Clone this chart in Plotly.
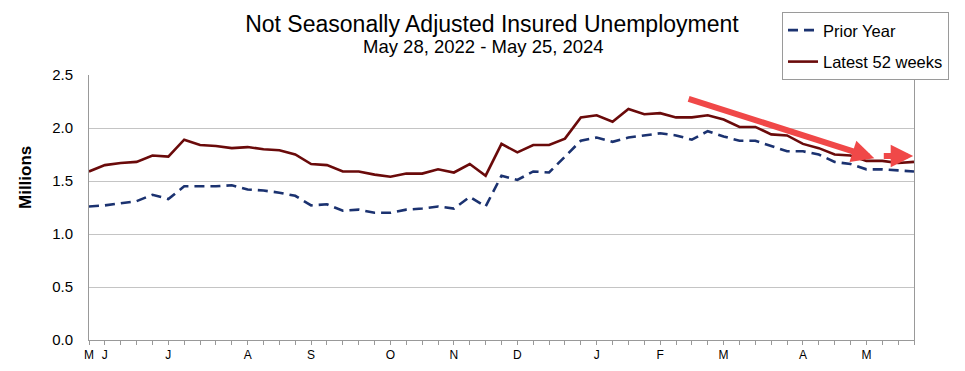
import plotly.graph_objects as go
import pandas as pd

# Week-ending dates (latest 52 weeks window)
weeks = [d.strftime("%Y-%m-%d") for d in pd.date_range("2023-05-27", "2024-05-25", freq="7D")]

latest_52_weeks = [
    1.59, 1.65, 1.67, 1.68, 1.74, 1.73, 1.89, 1.84, 1.83, 1.81,
    1.82, 1.80, 1.79, 1.75, 1.66, 1.65, 1.59, 1.59, 1.56, 1.54,
    1.57, 1.57, 1.61, 1.58, 1.66, 1.55, 1.85, 1.77, 1.84, 1.84,
    1.90, 2.10, 2.12, 2.06, 2.18, 2.13, 2.14, 2.10, 2.10, 2.12,
    2.08, 2.01, 2.01, 1.94, 1.93, 1.85, 1.81, 1.75, 1.74, 1.69,
    1.69, 1.67, 1.68,
]
prior_year = [
    1.26, 1.27, 1.29, 1.31, 1.37, 1.33, 1.45, 1.45, 1.45, 1.46,
    1.42, 1.41, 1.39, 1.36, 1.27, 1.28, 1.22, 1.23, 1.20, 1.20,
    1.23, 1.24, 1.26, 1.24, 1.35, 1.26, 1.55, 1.51, 1.59, 1.58,
    1.73, 1.88, 1.91, 1.87, 1.91, 1.93, 1.95, 1.93, 1.89, 1.97,
    1.92, 1.88, 1.88, 1.83, 1.78, 1.78, 1.75, 1.68, 1.66, 1.61,
    1.61, 1.60, 1.59,
]

month_tick_weeks = ["2023-05-27", "2023-06-03", "2023-07-01", "2023-08-05", "2023-09-02",
                    "2023-10-07", "2023-11-04", "2023-12-02", "2024-01-06", "2024-02-03",
                    "2024-03-02", "2024-04-06", "2024-05-04"]
month_tick_labels = ["M", "J", "J", "A", "S", "O", "N", "D", "J", "F", "M", "A", "M"]

tick_map = dict(zip(month_tick_weeks, month_tick_labels))
tick_text = [tick_map.get(w, "") for w in weeks]

fig = go.Figure()
fig.add_trace(go.Scatter(
    x=weeks, y=prior_year, mode="lines", name="Prior Year",
    line=dict(color="#1b3270", width=2.6, dash="10px,6px"),
    legendgroup="a",
))
fig.add_trace(go.Scatter(
    x=weeks, y=latest_52_weeks, mode="lines", name="Latest 52 weeks",
    line=dict(color="#6a0a0a", width=2.6),
    legendgroup="b",
))

arrow_color = "#f04848"
# Trend arrows
fig.add_annotation(x=49.5, y=1.715, ax=37.7, ay=2.28, xref="x", yref="y", axref="x", ayref="y",
                   showarrow=True, arrowhead=2, arrowsize=0.75, arrowwidth=6, arrowcolor=arrow_color, text="")
fig.add_annotation(x=51.95, y=1.735, ax=50.0, ay=1.735, xref="x", yref="y", axref="x", ayref="y",
                   showarrow=True, arrowhead=2, arrowsize=0.75, arrowwidth=6, arrowcolor=arrow_color, text="")

fig.add_annotation(text="May 28, 2022 - May 25, 2024", xref="paper", yref="paper",
                   x=0.478, y=1.107, showarrow=False, font=dict(size=18.5, color="black"),
                   xanchor="center", yanchor="middle")
fig.add_annotation(text="<b>Millions</b>", xref="paper", yref="paper",
                   x=-0.0776, y=0.615, showarrow=False, font=dict(size=17, color="black"),
                   textangle=-90, xanchor="center", yanchor="middle")

# The page body has an 8px margin, so the figure is sized to fit inside the window.
fig.update_layout(
    width=957, height=363,
    margin=dict(l=81, r=51, t=67, b=31, autoexpand=False),
    paper_bgcolor="white", plot_bgcolor="white",
    font=dict(family="Liberation Sans, Arial, sans-serif", color="black"),
    title=dict(text="Not Seasonally Adjusted Insured Unemployment", font=dict(size=23, color="black"),
               xref="container", x=0.5057, xanchor="center", yref="container", y=0.956, yanchor="middle"),
    legend=dict(x=0.84, y=1.238, xanchor="left", yanchor="top", bordercolor="#9a9a9a", borderwidth=1,
                bgcolor="white", font=dict(size=16.5), tracegroupgap=7, traceorder="grouped",
                itemwidth=30),
    showlegend=True,
)
fig.update_xaxes(
    type="category", range=[0, len(weeks) - 1], automargin=False,
    tickmode="array", tickvals=weeks, ticktext=tick_text,
    ticks="outside", ticklen=4, tickcolor="#999999", tickfont=dict(size=12),
    showline=True, linecolor="#999999", linewidth=1, showgrid=False, zeroline=False,
)
fig.update_yaxes(
    range=[0, 2.5], dtick=0.5, tickformat=".1f", tickfont=dict(size=15), automargin=False,
    showgrid=True, gridcolor="#c4c4c4", gridwidth=1,
    showline=True, linecolor="#999999", linewidth=1, mirror=True, zeroline=False,
    ticks="", ticklabelstandoff=12,
)

fig.write_html("out.html")
